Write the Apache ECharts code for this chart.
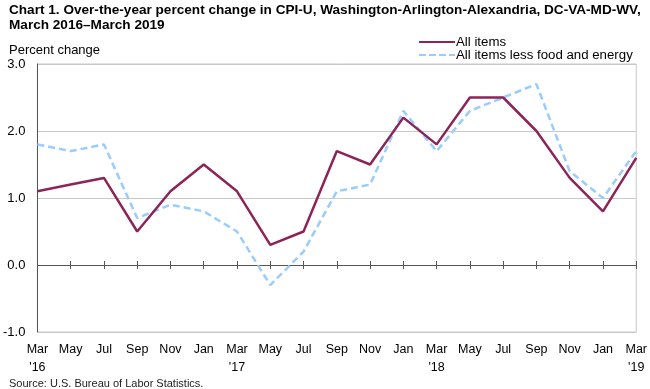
<!DOCTYPE html>
<html><head><meta charset="utf-8">
<script src="https://cdn.jsdelivr.net/npm/echarts@6/dist/echarts.min.js"></script>
<style>html,body{margin:0;padding:0;background:#fff}#c{width:650px;height:389px}</style>
</head><body><div id="c"></div>
<script>
var categories = ["Mar\n'16","May","Jul","Sep","Nov","Jan","Mar\n'17","May","Jul","Sep","Nov","Jan","Mar\n'18","May","Jul","Sep","Nov","Jan","Mar\n'19"];
var allItems = [1.1,1.2,1.3,0.5,1.1,1.5,1.1,0.3,0.5,1.7,1.5,2.2,1.8,2.5,2.5,2.0,1.3,0.8,1.6];
var coreItems = [1.8,1.7,1.8,0.7,0.9,0.8,0.5,-0.3,0.2,1.1,1.2,2.3,1.7,2.3,2.5,2.7,1.4,1.0,1.7];
var yTicks = {min:-1, max:3, interval:1};
var font = "'Liberation Sans', Arial, sans-serif";

var chart = echarts.init(document.getElementById('c'));
chart.setOption({
  animation:false,
  textStyle:{fontFamily:font},
  title:[
    {text:"Chart 1. Over-the-year percent change in CPI-U, Washington-Arlington-Alexandria, DC-VA-MD-WV,\nMarch 2016\u2013March 2019",
     left:4, top:-2, textStyle:{fontSize:13.6, fontWeight:'bold', color:'#000', lineHeight:15, fontFamily:font}},
    {text:"Percent change", left:4, top:39, textStyle:{fontSize:13, fontWeight:'normal', color:'#000', fontFamily:font}},
    {text:"Source: U.S. Bureau of Labor Statistics.", left:4, top:373, textStyle:{fontSize:11, fontWeight:'normal', color:'#222', fontFamily:font}}
  ],
  legend:{
    orient:'vertical', left:419, top:35.5, itemWidth:36, itemHeight:8, itemGap:0, padding:0,
    textStyle:{fontSize:13.25, lineHeight:13, color:'#000', fontFamily:font, padding:[0,0,0,-4]},
    data:[{name:'All items', icon:'path://M0,3 L36,3 L36,5 L0,5 Z'},
          {name:'All items less food and energy', icon:'path://M0,3 L7,3 L7,5 L0,5 Z M10,3 L17,3 L17,5 L10,5 Z M20,3 L27,3 L27,5 L20,5 Z M30,3 L36,3 L36,5 L30,5 Z'}]
  },
  grid:{left:35, right:12, top:64, bottom:57, show:true, borderColor:'#c8c8c8', borderWidth:1},
  xAxis:[
    {type:'category', data:categories, boundaryGap:false, position:'bottom',
     axisLine:{show:false, onZero:false}, axisTick:{show:false},
     axisLabel:{color:'#000', fontSize:12.5, margin:9, lineHeight:18, interval:0, fontFamily:font}},
    {type:'category', data:categories, boundaryGap:false,
     axisLine:{show:true, onZero:true, onZeroAxisIndex:0, lineStyle:{color:'#555', width:1}},
     axisTick:{show:true, inside:false, length:4, interval:0, lineStyle:{color:'#555'}},
     axisLabel:{show:false}},
    {type:'category', data:categories, boundaryGap:false,
     axisLine:{show:false, onZero:true, onZeroAxisIndex:0},
     axisTick:{show:true, inside:true, length:4, interval:0, lineStyle:{color:'#555'}},
     axisLabel:{show:false}}
  ],
  yAxis:{type:'value', min:yTicks.min, max:yTicks.max, interval:yTicks.interval,
    axisLine:{show:true, lineStyle:{color:'#555'}}, axisTick:{show:false},
    axisLabel:{color:'#000', fontSize:13, margin:12, formatter:function(v){return v.toFixed(1);}, fontFamily:font},
    splitLine:{show:true, lineStyle:{color:'#c8c8c8', width:1}}},
  series:[
    {name:'All items', type:'line', data:allItems, symbol:'none', xAxisIndex:0,
     lineStyle:{color:'#8c2457', width:2.5}, itemStyle:{color:'#8c2457'}, z:3},
    {name:'All items less food and energy', type:'line', data:coreItems, symbol:'none', xAxisIndex:0,
     lineStyle:{color:'#99ccff', width:2.5, type:[7,4]}, itemStyle:{color:'#99ccff'}, z:2}
  ]
});
</script></body></html>
